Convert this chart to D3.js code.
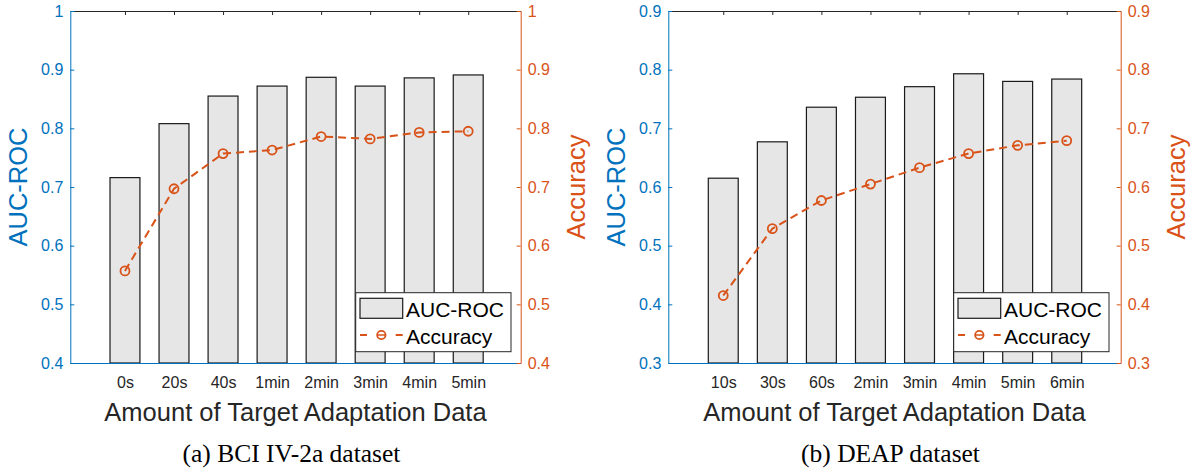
<!DOCTYPE html>
<html>
<head>
<meta charset="utf-8">
<script src="https://d3js.org/d3.v7.min.js"></script>
<style>
  body { margin: 0; background: #fff; }
  svg text { font-family: "Liberation Sans", Arial, Helvetica, sans-serif; }
  .caption { font-family: "Liberation Serif", "Times New Roman", serif !important; }
</style>
</head>
<body>
<svg id="fig" width="1193" height="471"></svg>
<script>
// ---- data ----
const bciLabels = ["0s", "20s", "40s", "1min", "2min", "3min", "4min", "5min"];
const bciAuc = [0.716, 0.808, 0.855, 0.872, 0.887, 0.872, 0.886, 0.891];
const bciAcc = [0.557, 0.697, 0.757, 0.763, 0.786, 0.782, 0.793, 0.795];
const bciTicks = [0.4, 0.5, 0.6, 0.7, 0.8, 0.9, 1];

const deapLabels = ["10s", "30s", "60s", "2min", "3min", "4min", "5min", "6min"];
const deapAuc = [0.615, 0.677, 0.736, 0.753, 0.771, 0.793, 0.780, 0.784];
const deapAcc = [0.415, 0.529, 0.577, 0.605, 0.633, 0.657, 0.671, 0.679];
const deapTicks = [0.3, 0.4, 0.5, 0.6, 0.7, 0.8, 0.9];

const blue = '#0072BD';
const orange = '#D95319';
const dark = '#262626';

const svg = d3.select('svg#fig');
svg.append('rect').attr('width', 1193).attr('height', 471).attr('fill', '#fff');

const fmt = d => d3.format('~g')(d);

function drawPanel(cfg) {
  const {left, right, top, bottom} = cfg;
  const g = svg.append('g');

  const x = d3.scaleLinear().domain(cfg.xdom).range([left, right]);
  const yL = d3.scaleLinear().domain(d3.extent(cfg.ticks)).range([bottom, top]);
  const yR = d3.scaleLinear().domain(d3.extent(cfg.ticks)).range([bottom, top]);
  const idx = d3.range(cfg.labels.length);
  const bw = 0.61 * (x(1) - x(0));

  // bars
  g.selectAll('rect.bar').data(cfg.auc).join('rect')
    .attr('class', 'bar')
    .attr('x', (d, i) => x(i) - bw / 2)
    .attr('y', d => yL(d))
    .attr('width', bw)
    .attr('height', d => bottom - yL(d))
    .attr('fill', '#E6E6E6')
    .attr('stroke', '#1a1a1a')
    .attr('stroke-width', 1.2);

  // top axis (box), ticks pointing in
  const topAxis = d3.axisTop(x).tickValues(idx).tickSizeInner(-4).tickSizeOuter(0).tickFormat('');
  const gt = g.append('g').attr('transform', `translate(0,${top})`).call(topAxis);
  gt.selectAll('path, line').attr('stroke', dark);

  // bottom axis
  const botAxis = d3.axisBottom(x).tickValues(idx).tickSize(0).tickPadding(13.5)
    .tickFormat(i => cfg.labels[i]);
  const gb = g.append('g').attr('transform', `translate(0,${bottom})`).call(botAxis);
  gb.select('path').attr('stroke', blue);
  gb.selectAll('text').attr('fill', dark).style('font-size', '16px')
    .style('font-family', '"Liberation Sans", Arial, sans-serif');

  // left axis
  const lAxis = d3.axisLeft(yL).tickValues(cfg.ticks).tickSizeInner(-4).tickSizeOuter(0)
    .tickPadding(7).tickFormat(fmt);
  const gl = g.append('g').attr('transform', `translate(${left},0)`).call(lAxis);
  gl.selectAll('path, line').attr('stroke', blue);
  gl.selectAll('text').attr('fill', blue).style('font-size', '16px')
    .style('font-family', '"Liberation Sans", Arial, sans-serif');

  // right axis
  const rAxis = d3.axisRight(yR).tickValues(cfg.ticks).tickSizeInner(-4).tickSizeOuter(0)
    .tickPadding(7).tickFormat(fmt);
  const gr = g.append('g').attr('transform', `translate(${right},0)`).call(rAxis);
  gr.selectAll('path, line').attr('stroke', orange);
  gr.selectAll('text').attr('fill', orange).style('font-size', '16px')
    .style('font-family', '"Liberation Sans", Arial, sans-serif');

  // accuracy line
  const line = d3.line().x((d, i) => x(i)).y(d => yR(d));
  g.append('path').datum(cfg.acc)
    .attr('d', line)
    .attr('fill', 'none')
    .attr('stroke', orange)
    .attr('stroke-width', 2)
    .attr('stroke-dasharray', '8,5');
  g.selectAll('circle.mk').data(cfg.acc).join('circle')
    .attr('class', 'mk')
    .attr('cx', (d, i) => x(i))
    .attr('cy', d => yR(d))
    .attr('r', 4.5)
    .attr('fill', 'none')
    .attr('stroke', orange)
    .attr('stroke-width', 1.8);

  // axis labels
  const cy = (top + bottom) / 2;
  g.append('text')
    .attr('transform', `translate(${left - 43.5},${cy}) rotate(-90)`)
    .attr('text-anchor', 'middle')
    .attr('fill', blue)
    .style('font-size', '25.5px')
    .text('AUC-ROC');
  g.append('text')
    .attr('transform', `translate(${right + 64},${cy}) rotate(-90)`)
    .attr('text-anchor', 'middle')
    .attr('fill', orange)
    .style('font-size', '25.5px')
    .text('Accuracy');
  const cx = (left + right) / 2;
  g.append('text')
    .attr('x', cx).attr('y', 420.5)
    .attr('text-anchor', 'middle')
    .attr('fill', dark)
    .style('font-size', '25.5px')
    .text('Amount of Target Adaptation Data');

  // caption
  g.append('text')
    .attr('class', 'caption')
    .attr('x', cx - 4).attr('y', 462)
    .attr('text-anchor', 'middle')
    .attr('fill', '#000')
    .style('font-size', '25.5px')
    .text(cfg.caption);

  // legend
  const lx = right - cfg.legendOff, ly = 292.7;
  const lg = g.append('g').attr('transform', `translate(${lx},${ly})`);
  lg.append('rect').attr('width', 155.3).attr('height', 59)
    .attr('fill', '#fff').attr('stroke', dark).attr('stroke-width', 1);
  lg.append('rect').attr('x', 4.3).attr('y', 5.6).attr('width', 42.7).attr('height', 20)
    .attr('fill', '#E6E6E6').attr('stroke', '#1a1a1a').attr('stroke-width', 1.2);
  lg.append('text').attr('x', 50.3).attr('y', 24).attr('fill', '#000')
    .style('font-size', '21px').text('AUC-ROC');
  lg.append('line').attr('x1', 4.3).attr('x2', 47).attr('y1', 42.3).attr('y2', 42.3)
    .attr('stroke', orange).attr('stroke-width', 2).attr('stroke-dasharray', '7,28.7');
  lg.append('circle').attr('cx', 25.65).attr('cy', 42.3).attr('r', 4.2)
    .attr('fill', 'none').attr('stroke', orange).attr('stroke-width', 1.8);
  lg.append('line').attr('x1', 21.5).attr('x2', 29.8).attr('y1', 42.3).attr('y2', 42.3)
    .attr('stroke', orange).attr('stroke-width', 1.5);
  lg.append('text').attr('x', 50.3).attr('y', 51.3).attr('fill', '#000')
    .style('font-size', '21px').text('Accuracy');
}

drawPanel({
  left: 70.3, right: 520.7, top: 11, bottom: 363,
  xdom: [-1.115, 8.07],
  labels: bciLabels, auc: bciAuc, acc: bciAcc, ticks: bciTicks,
  caption: '(a) BCI IV-2a dataset', legendOff: 165
});

drawPanel({
  left: 668.3, right: 1120.7, top: 11, bottom: 363,
  xdom: [-1.12, 8.1],
  labels: deapLabels, auc: deapAuc, acc: deapAcc, ticks: deapTicks,
  caption: '(b) DEAP dataset', legendOff: 167
});
</script>
</body>
</html>
